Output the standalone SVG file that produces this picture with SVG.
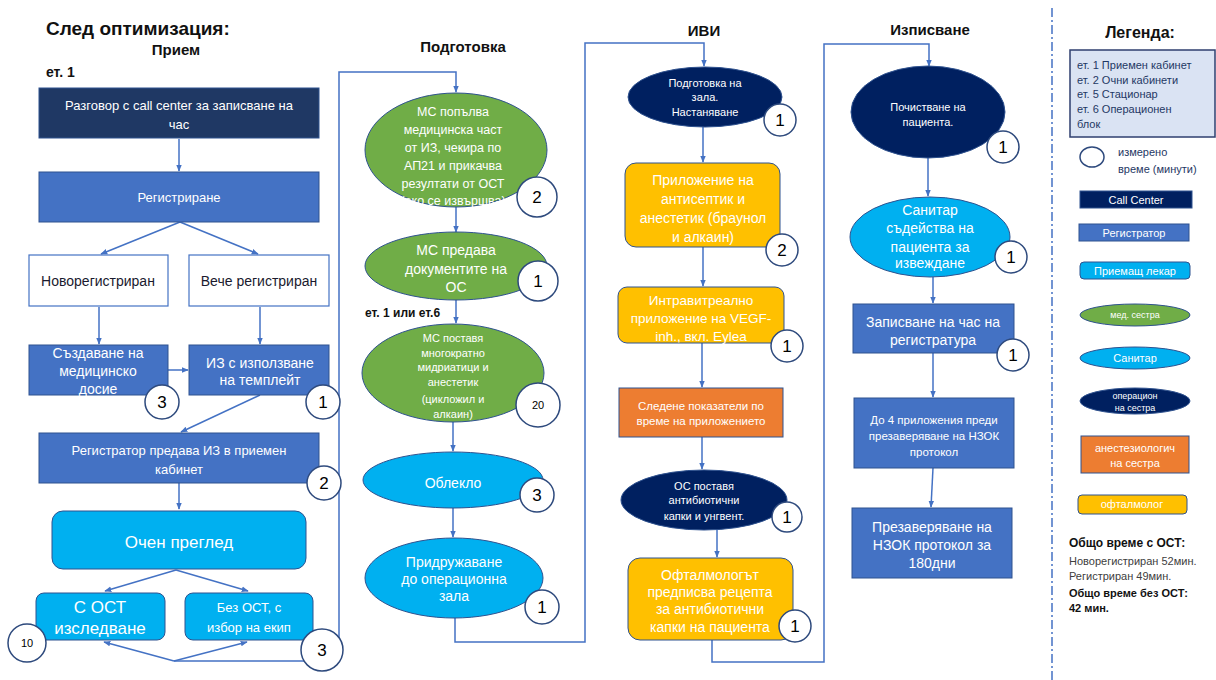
<svg xmlns="http://www.w3.org/2000/svg" width="1216" height="680" viewBox="0 0 1216 680">
<defs>
<marker id="ar" viewBox="0 0 10 10" refX="9" refY="5" markerWidth="7" markerHeight="7" orient="auto-start-reverse" markerUnits="userSpaceOnUse">
<path d="M0,1 L10,5 L0,9 z" fill="#4472c4"/>
</marker>
<style>
text{font-family:"Liberation Sans",Arial,sans-serif;}
.t{text-anchor:middle;fill:#fff;}
.d{text-anchor:middle;fill:#1a1a2e;}
.h{font-weight:bold;fill:#111;}
.c{fill:none;stroke:#4472c4;stroke-width:1.5;}
.ca{fill:none;stroke:#4472c4;stroke-width:1.5;marker-end:url(#ar);}
.num{fill:#fff;stroke:#2e4a7d;stroke-width:1.5;}
.n{text-anchor:middle;fill:#000;}
.navy{fill:#1f3864;stroke:#2f528f;stroke-width:1;}
.dnavy{fill:#002060;stroke:#2f528f;stroke-width:1;}
.blue{fill:#4472c4;stroke:#2f528f;stroke-width:1;}
.white{fill:#fff;stroke:#4472c4;stroke-width:1.2;}
.cyan{fill:#00b0f0;stroke:#2f528f;stroke-width:1;}
.green{fill:#70ad47;stroke:#2f528f;stroke-width:1;}
.yel{fill:#ffc000;stroke:#2f528f;stroke-width:1;}
.org{fill:#ed7d31;stroke:#2f528f;stroke-width:1;}
</style>
</defs>
<rect width="1216" height="680" fill="#fff"/>

<text x="46" y="35" class="h" font-size="19">След оптимизация:</text>
<text x="176" y="55" class="h" font-size="15" text-anchor="middle">Прием</text>
<text x="46" y="77" class="h" font-size="14">ет. 1</text>
<text x="463" y="52" class="h" font-size="15" text-anchor="middle">Подготовка</text>
<text x="704" y="36" class="h" font-size="15" text-anchor="middle">ИВИ</text>
<text x="930" y="35" class="h" font-size="15" text-anchor="middle">Изписване</text>
<text x="1140" y="38" class="h" font-size="16" text-anchor="middle">Легенда:</text>

<g id="connectors">
<line class="ca" x1="179" y1="139" x2="179" y2="171"/>
<line class="ca" x1="180" y1="222" x2="101" y2="254"/>
<line class="ca" x1="180" y1="222" x2="258" y2="254"/>
<line class="ca" x1="99" y1="307" x2="99" y2="344"/>
<line class="ca" x1="260" y1="307" x2="260" y2="344"/>
<line class="ca" x1="168" y1="370" x2="188" y2="370"/>
<line class="ca" x1="260" y1="395" x2="181" y2="432"/>
<line class="ca" x1="179" y1="483" x2="179" y2="509"/>
<line class="ca" x1="176" y1="570" x2="105" y2="591"/>
<line class="ca" x1="176" y1="570" x2="248" y2="591"/>
<line class="ca" x1="174" y1="661" x2="104" y2="642"/>
<line class="ca" x1="174" y1="661" x2="247" y2="642"/>
<polyline class="ca" points="174,661 339,661 339,72 456,72 456,92"/>
<line class="ca" x1="456" y1="207" x2="456" y2="232"/>
<line class="ca" x1="456" y1="300" x2="456" y2="323"/>
<line class="ca" x1="453" y1="422" x2="453" y2="451"/>
<line class="ca" x1="453" y1="508" x2="453" y2="537"/>
<polyline class="ca" points="455,618 455,642 585,642 585,43 704,43 704,66"/>
<line class="ca" x1="703" y1="127" x2="703" y2="162"/>
<line class="ca" x1="703" y1="247" x2="703" y2="286"/>
<line class="ca" x1="702" y1="343" x2="702" y2="387"/>
<line class="ca" x1="702" y1="437" x2="702" y2="469"/>
<line class="ca" x1="717" y1="529" x2="717" y2="557"/>
<polyline class="ca" points="712,640 712,662 824,662 824,44 929,44 929,66"/>
<line class="ca" x1="928" y1="158" x2="928" y2="196"/>
<line class="ca" x1="933" y1="277" x2="933" y2="303"/>
<line class="ca" x1="933" y1="353" x2="933" y2="397"/>
<line class="ca" x1="933" y1="468" x2="931" y2="507"/>
</g>

<line x1="1052" y1="8" x2="1052" y2="680" stroke="#4472c4" stroke-width="1.5" stroke-dasharray="9 3 2 3"/>

<g id="n-callcenter">
<rect class="navy" x="39" y="88" width="280" height="50"/>
<text class="t" x="179" y="110" font-size="13">Разговор с call center за записване на</text>
<text class="t" x="179" y="129" font-size="13">час</text>
</g>
<g id="n-registrirane">
<rect class="blue" x="39" y="172" width="280" height="50"/>
<text class="t" x="179" y="202" font-size="13">Регистриране</text>
</g>
<g id="n-novoreg">
<rect class="white" x="29" y="255" width="139" height="51"/>
<text class="d" x="98" y="286" font-size="14">Новорегистриран</text>
</g>
<g id="n-vechereg">
<rect class="white" x="189" y="255" width="140" height="51"/>
<text class="d" x="259" y="286" font-size="14">Вече регистриран</text>
</g>
<g id="n-dosie">
<rect class="blue" x="29" y="345" width="139" height="50"/>
<text class="t" x="98" y="358" font-size="14">Създаване на</text>
<text class="t" x="98" y="376" font-size="14">медицинско</text>
<text class="t" x="98" y="394" font-size="14">досие</text>
<circle class="num" cx="162" cy="402" r="17"/>
<text class="n" x="162" y="408" font-size="17">3</text>
</g>
<g id="n-iz">
<rect class="blue" x="189" y="345" width="140" height="50"/>
<text class="t" x="260" y="368" font-size="14">ИЗ с използване</text>
<text class="t" x="260" y="385" font-size="14">на темплейт</text>
<circle class="num" cx="323" cy="402" r="17"/>
<text class="n" x="323" y="408" font-size="17">1</text>
</g>
<g id="n-predava">
<rect class="blue" x="39" y="433" width="280" height="50"/>
<text class="t" x="179" y="455" font-size="13">Регистратор предава ИЗ в приемен</text>
<text class="t" x="179" y="474" font-size="13">кабинет</text>
<circle class="num" cx="324" cy="483" r="17"/>
<text class="n" x="324" y="489" font-size="17">2</text>
</g>
<g id="n-ochen">
<rect class="cyan" x="52" y="511" width="254" height="58" rx="11"/>
<text class="t" x="179" y="548" font-size="17">Очен преглед</text>
</g>
<g id="n-soct">
<rect class="cyan" x="36" y="593" width="129" height="47" rx="8"/>
<text class="t" x="100" y="613" font-size="17">С ОСТ</text>
<text class="t" x="100" y="634" font-size="17">изследване</text>
<circle class="num" cx="27" cy="643" r="19"/>
<text class="n" x="27" y="647" font-size="11">10</text>
</g>
<g id="n-bezoct">
<rect class="cyan" x="185" y="593" width="128" height="47" rx="8"/>
<text class="t" x="249" y="612" font-size="13">Без ОСТ, с</text>
<text class="t" x="249" y="632" font-size="13">избор на екип</text>
<circle class="num" cx="322" cy="650" r="21"/>
<text class="n" x="322" y="656" font-size="17">3</text>
</g>

<g id="n-ms1">
<ellipse class="green" cx="456" cy="150" rx="91" ry="57"/>
<text class="t" x="453" y="116" font-size="12.5">МС попълва</text>
<text class="t" x="453" y="134" font-size="12.5">медицинска част</text>
<text class="t" x="453" y="152" font-size="12.5">от ИЗ, чекира по</text>
<text class="t" x="453" y="170" font-size="12.5">АП21 и прикачва</text>
<text class="t" x="453" y="188" font-size="12.5">резултати от ОСТ</text>
<text class="t" x="453" y="205" font-size="12.5">(ако се извършва)</text>
<circle class="num" cx="537" cy="197" r="20"/>
<text class="n" x="537" y="203" font-size="17">2</text>
</g>
<g id="n-ms2">
<ellipse class="green" cx="456" cy="266" rx="91" ry="34"/>
<text class="t" x="456" y="255" font-size="14">МС предава</text>
<text class="t" x="456" y="274" font-size="14">документите на</text>
<text class="t" x="456" y="292" font-size="14">ОС</text>
<circle class="num" cx="538" cy="281" r="20"/>
<text class="n" x="538" y="287" font-size="17">1</text>
</g>
<text x="365" y="317" class="h" font-size="12">ет. 1 или ет.6</text>
<g id="n-ms3">
<ellipse class="green" cx="453" cy="373" rx="91" ry="49"/>
<text class="t" x="453" y="342" font-size="11">МС поставя</text>
<text class="t" x="453" y="357" font-size="11">многократно</text>
<text class="t" x="453" y="371" font-size="11">мидриатици и</text>
<text class="t" x="453" y="386" font-size="11">анестетик</text>
<text class="t" x="453" y="403" font-size="11">(цикложил и</text>
<text class="t" x="453" y="418" font-size="11">алкаин)</text>
<circle class="num" cx="538" cy="405" r="22"/>
<text class="n" x="538" y="409" font-size="11">20</text>
</g>
<g id="n-obleklo">
<ellipse class="cyan" cx="453" cy="480" rx="90" ry="28"/>
<text class="t" x="453" y="488" font-size="14">Облекло</text>
<circle class="num" cx="537" cy="495" r="17"/>
<text class="n" x="537" y="501" font-size="17">3</text>
</g>
<g id="n-pridr">
<ellipse class="cyan" cx="454" cy="578" rx="89" ry="40"/>
<text class="t" x="454" y="567" font-size="14">Придружаване</text>
<text class="t" x="454" y="584" font-size="14">до операционна</text>
<text class="t" x="454" y="601" font-size="14">зала</text>
<circle class="num" cx="542" cy="607" r="17"/>
<text class="n" x="542" y="613" font-size="17">1</text>
</g>

<g id="n-zala">
<ellipse class="dnavy" cx="705" cy="97" rx="77" ry="30"/>
<text class="t" x="705" y="87" font-size="11">Подготовка на</text>
<text class="t" x="705" y="101" font-size="11">зала.</text>
<text class="t" x="705" y="116" font-size="11">Настаняване</text>
<circle class="num" cx="780" cy="120" r="16"/>
<text class="n" x="780" y="126" font-size="17">1</text>
</g>
<g id="n-antisep">
<rect class="yel" x="625" y="163" width="155" height="84" rx="11"/>
<text class="t" x="703" y="185" font-size="14">Приложение на</text>
<text class="t" x="703" y="204" font-size="14">антисептик и</text>
<text class="t" x="703" y="223" font-size="14">анестетик (браунол</text>
<text class="t" x="703" y="242" font-size="14">и алкаин)</text>
<circle class="num" cx="782" cy="250" r="16"/>
<text class="n" x="782" y="256" font-size="17">2</text>
</g>
<g id="n-intra">
<rect class="yel" x="618" y="287" width="166" height="56" rx="9"/>
<text class="t" x="701" y="305" font-size="13.5">Интравитреално</text>
<text class="t" x="701" y="323" font-size="13.5">приложение на VEGF-</text>
<text class="t" x="701" y="341" font-size="13.5">inh., вкл. Eylea</text>
<circle class="num" cx="787" cy="346" r="16"/>
<text class="n" x="787" y="352" font-size="17">1</text>
</g>
<g id="n-sledene">
<rect class="org" x="619" y="388" width="164" height="49"/>
<text class="t" x="701" y="410" font-size="11.5">Следене показатели по</text>
<text class="t" x="701" y="425" font-size="11.5">време на приложението</text>
</g>
<g id="n-ospostavia">
<ellipse class="dnavy" cx="704" cy="500" rx="83" ry="30"/>
<text class="t" x="704" y="490" font-size="11">ОС  поставя</text>
<text class="t" x="704" y="504" font-size="11">антибиотични</text>
<text class="t" x="704" y="520" font-size="11">капки  и унгвент.</text>
<circle class="num" cx="787" cy="517" r="15"/>
<text class="n" x="787" y="523" font-size="17">1</text>
</g>
<g id="n-recepta">
<rect class="yel" x="628" y="558" width="165" height="82" rx="12"/>
<text class="t" x="710" y="580" font-size="14">Офталмологът</text>
<text class="t" x="710" y="597" font-size="14">предписва рецепта</text>
<text class="t" x="710" y="614" font-size="14">за антибиотични</text>
<text class="t" x="710" y="632" font-size="14">капки на пациента</text>
<circle class="num" cx="795" cy="626" r="16"/>
<text class="n" x="795" y="632" font-size="17">1</text>
</g>

<g id="n-pochistvane">
<ellipse class="dnavy" cx="928" cy="112" rx="77" ry="46"/>
<text class="t" x="928" y="111" font-size="11">Почистване на</text>
<text class="t" x="928" y="126" font-size="11">пациента.</text>
<circle class="num" cx="1003" cy="147" r="16"/>
<text class="n" x="1003" y="153" font-size="17">1</text>
</g>
<g id="n-sanitar">
<ellipse class="cyan" cx="930" cy="237" rx="80" ry="40"/>
<text class="t" x="930" y="215" font-size="14">Санитар</text>
<text class="t" x="930" y="233" font-size="14">съдейства на</text>
<text class="t" x="930" y="252" font-size="14">пациента за</text>
<text class="t" x="930" y="268" font-size="14">извеждане</text>
<circle class="num" cx="1011" cy="257" r="16"/>
<text class="n" x="1011" y="263" font-size="17">1</text>
</g>
<g id="n-zapisvane">
<rect class="blue" x="853" y="304" width="161" height="49"/>
<text class="t" x="933" y="327" font-size="14">Записване на час на</text>
<text class="t" x="933" y="345" font-size="14">регистратура</text>
<circle class="num" cx="1013" cy="355" r="16"/>
<text class="n" x="1013" y="361" font-size="17">1</text>
</g>
<g id="n-do4">
<rect class="blue" x="854" y="398" width="160" height="70"/>
<text class="t" x="934" y="424" font-size="11.5">До 4 приложения преди</text>
<text class="t" x="934" y="440" font-size="11.5">презаверяване на НЗОК</text>
<text class="t" x="934" y="456" font-size="11.5">протокол</text>
</g>
<g id="n-prezaver">
<rect class="blue" x="852" y="508" width="160" height="70"/>
<text class="t" x="932" y="532" font-size="14">Презаверяване на</text>
<text class="t" x="932" y="550" font-size="14">НЗОК протокол за</text>
<text class="t" x="932" y="568" font-size="14">180дни</text>
</g>

<g id="legend">
<rect x="1070" y="50" width="145" height="87" fill="#dae3f3" stroke="#2f3f6f" stroke-width="1.5"/>
<g font-size="11" fill="#1f3864">
<text x="1077" y="69">ет. 1 Приемен кабинет</text>
<text x="1077" y="84">ет. 2 Очни кабинети</text>
<text x="1077" y="98">ет. 5 Стационар</text>
<text x="1077" y="113">ет. 6 Операционен</text>
<text x="1077" y="128">блок</text>
</g>
<ellipse cx="1092" cy="157" rx="12" ry="10" fill="#fff" stroke="#2e4a7d" stroke-width="1.5"/>
<text x="1118" y="156" font-size="11" fill="#1f3864">измерено</text>
<text x="1118" y="173" font-size="11" fill="#1f3864">време (минути)</text>
<rect class="dnavy" x="1080" y="191" width="112" height="17"/>
<text class="t" x="1136" y="204" font-size="11">Call Center</text>
<rect class="blue" x="1079" y="224" width="110" height="17"/>
<text class="t" x="1134" y="237" font-size="11">Регистратор</text>
<rect class="cyan" x="1080" y="262" width="110" height="17" rx="4"/>
<text class="t" x="1135" y="275" font-size="11">Приемащ лекар</text>
<ellipse class="green" cx="1135" cy="315" rx="55" ry="11"/>
<text class="t" x="1135" y="318" font-size="9">мед. сестра</text>
<ellipse class="cyan" cx="1135" cy="358" rx="55" ry="11"/>
<text class="t" x="1135" y="362" font-size="11">Санитар</text>
<ellipse class="dnavy" cx="1135" cy="401" rx="55" ry="13"/>
<text class="t" x="1135" y="399" font-size="9">операцион</text>
<text class="t" x="1135" y="411" font-size="9">на сестра</text>
<rect class="org" x="1081" y="436" width="108" height="37"/>
<text class="t" x="1135" y="452" font-size="11">анестезиологич</text>
<text class="t" x="1135" y="467" font-size="11">на сестра</text>
<rect class="yel" x="1078" y="495" width="109" height="19" rx="4"/>
<text class="t" x="1132" y="508" font-size="11">офталмолог</text>
<text x="1069" y="547" class="h" font-size="12">Общо време с ОСТ:</text>
<text x="1069" y="565" font-size="11" fill="#404040">Новорегистриран 52мин.</text>
<text x="1069" y="580" font-size="11" fill="#404040">Регистриран 49мин.</text>
<text x="1069" y="597" class="h" font-size="11">Общо време без ОСТ:</text>
<text x="1069" y="612" class="h" font-size="11">42 мин.</text>
</g>
</svg>
